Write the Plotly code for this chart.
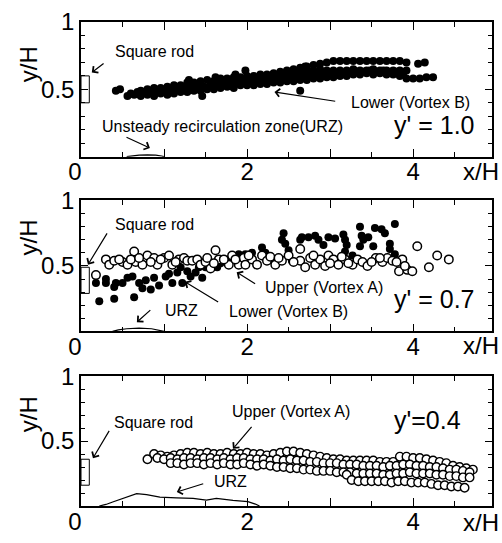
import plotly.graph_objects as go
from plotly.subplots import make_subplots

FONT = "Liberation Sans, Arial, Helvetica, sans-serif"

# ---------------- data (x/H, y/H) ----------------
# Panel y' = 1.0 : lower vortex (B), filled dots
p1_lower_b = [
    (0.56,0.45),(0.64,0.46),(0.72,0.45),(0.80,0.46),(0.88,0.45),(0.96,0.47),(1.04,0.46),(1.12,0.47),
    (1.20,0.48),(1.28,0.48),(1.36,0.49),(1.44,0.49),(1.52,0.50),(1.60,0.50),(1.68,0.51),(1.76,0.52),
    (1.84,0.51),(1.92,0.53),(2.00,0.53),(2.08,0.53),(2.16,0.54),(2.24,0.54),(2.32,0.55),(2.40,0.55),
    (2.48,0.56),(2.56,0.56),(2.64,0.57),(2.72,0.57),(2.80,0.58),(2.88,0.58),(2.96,0.59),(3.04,0.59),
    (3.12,0.60),(3.20,0.60),(3.28,0.61),(3.36,0.61),(3.44,0.62),(3.52,0.61),(3.60,0.62),(3.68,0.61),
    (3.76,0.61),(3.84,0.60),(3.92,0.58),(4.00,0.58),(4.08,0.58),(4.16,0.59),(4.24,0.59),
    (0.60,0.47),(0.68,0.48),(0.76,0.48),(0.84,0.49),(0.92,0.48),(1.00,0.49),(1.08,0.50),(1.16,0.50),
    (1.24,0.51),(1.32,0.51),(1.40,0.52),(1.48,0.52),(1.56,0.53),(1.64,0.54),(1.72,0.54),(1.80,0.55),
    (1.88,0.55),(1.96,0.56),(2.04,0.56),(2.12,0.57),(2.20,0.57),(2.28,0.58),(2.36,0.58),(2.44,0.59),
    (2.52,0.59),(2.60,0.60),(2.68,0.60),(2.76,0.60),(2.84,0.61),(2.92,0.61),(3.00,0.62),(3.08,0.62),
    (3.16,0.62),(3.24,0.63),(3.32,0.63),(3.40,0.63),(3.48,0.64),(3.56,0.63),(3.64,0.64),(3.72,0.63),
    (3.80,0.63),(3.88,0.62),
    (0.72,0.49),(0.80,0.50),(0.88,0.51),(0.96,0.51),(1.04,0.52),(1.12,0.53),(1.20,0.53),(1.28,0.55),
    (1.36,0.55),(1.44,0.56),(1.52,0.57),(1.60,0.56),(1.68,0.58),(1.76,0.58),(1.84,0.59),(1.92,0.59),
    (2.00,0.60),(2.08,0.60),(2.16,0.61),(2.24,0.61),(2.32,0.62),(2.40,0.62),(2.48,0.63),(2.56,0.63),
    (2.64,0.64),(2.72,0.64),(2.80,0.64),(2.88,0.65),(2.96,0.64),(3.04,0.64),(3.12,0.64),(3.20,0.64),
    (3.28,0.65),(3.36,0.64),(3.44,0.64),(3.52,0.65),(3.60,0.64),(3.68,0.64),(3.76,0.64),(3.84,0.64),
    (3.92,0.64),
    (2.40,0.63),(2.48,0.64),(2.56,0.65),(2.64,0.66),(2.72,0.67),(2.80,0.68),(2.88,0.69),(2.96,0.70),
    (3.04,0.71),(3.12,0.71),(3.20,0.71),(3.28,0.71),(3.36,0.71),(3.44,0.71),(3.52,0.71),(3.60,0.71),
    (3.68,0.71),(3.76,0.71),(3.84,0.71),(3.92,0.70),
    (0.42,0.49),(0.47,0.50),(1.46,0.45),(1.98,0.64),(2.64,0.49),(4.06,0.69),(4.14,0.70),
    (1.30,0.57),(1.62,0.59),(1.86,0.61),(2.70,0.67),
]

# Panel y' = 0.7 : lower vortex (B) filled, upper vortex (A) open
p2_lower_b = [
    (0.22,0.23),(0.40,0.25),(0.64,0.26),(0.18,0.37),(0.30,0.37),(0.30,0.40),(0.40,0.34),(0.42,0.37),
    (0.50,0.37),(0.56,0.41),(0.62,0.42),(0.70,0.37),(0.74,0.33),(0.78,0.39),(0.84,0.32),(0.88,0.41),
    (0.94,0.35),(1.02,0.42),(1.06,0.44),(1.10,0.37),(1.16,0.45),(1.20,0.49),(1.22,0.37),(1.28,0.46),
    (1.32,0.42),(1.38,0.45),(1.42,0.49),(1.46,0.41),(1.50,0.49),(1.64,0.49),(1.68,0.52),(1.78,0.55),
    (1.82,0.58),(1.90,0.59),(1.98,0.59),(2.06,0.60),(2.18,0.64),(2.22,0.60),(2.28,0.56),(2.44,0.75),
    (2.42,0.70),(2.46,0.67),(2.50,0.62),(2.54,0.54),(2.64,0.70),(2.66,0.72),(2.74,0.72),(2.82,0.73),
    (2.86,0.70),(2.92,0.66),(2.98,0.72),(3.06,0.71),(3.18,0.70),(3.16,0.74),(3.20,0.66),(3.18,0.61),
    (3.36,0.80),(3.38,0.73),(3.40,0.70),(3.36,0.65),(3.46,0.72),(3.54,0.79),(3.52,0.65),(3.62,0.78),
    (3.66,0.75),(3.78,0.82),(3.72,0.67),(3.72,0.63),(3.78,0.59),(3.27,0.58),
]
p2_upper_a = [
    (0.18,0.43),(0.30,0.55),(0.34,0.51),(0.40,0.54),(0.50,0.53),(0.56,0.51),(0.64,0.61),(0.66,0.53),
    (0.74,0.51),(0.80,0.58),(0.88,0.56),(0.92,0.51),(1.00,0.56),(1.06,0.58),(1.10,0.51),(1.18,0.55),
    (1.24,0.56),(1.28,0.54),(1.34,0.54),(1.40,0.55),(1.44,0.51),(1.50,0.53),(1.56,0.48),(1.62,0.62),
    (1.66,0.55),(1.78,0.51),(1.82,0.58),(1.90,0.51),(1.96,0.56),(1.98,0.51),(2.06,0.55),(2.12,0.51),
    (2.18,0.58),(2.24,0.54),(2.34,0.51),(2.42,0.54),(2.50,0.58),(2.64,0.63),(2.64,0.54),(2.70,0.49),
    (2.76,0.56),(2.82,0.51),(2.88,0.55),(2.94,0.50),(2.98,0.58),(3.04,0.55),(3.10,0.51),(3.18,0.55),
    (3.27,0.51),(3.33,0.55),(3.39,0.53),(3.45,0.50),(3.55,0.56),(3.63,0.53),(3.69,0.56),(3.75,0.54),
    (3.83,0.46),(3.87,0.55),(3.93,0.47),(3.99,0.46),(4.05,0.65),(4.19,0.49),(4.29,0.58),(4.43,0.55),
    (0.46,0.55),(0.60,0.55),(0.70,0.56),(0.84,0.53),(0.96,0.55),(1.14,0.53),(1.52,0.56),(1.60,0.52),
    (1.72,0.55),(1.86,0.55),(2.02,0.58),(2.28,0.57),(2.38,0.56),(2.56,0.53),(2.80,0.58),(3.00,0.52),
    (3.14,0.57),(3.22,0.52),(3.50,0.53),(3.60,0.56),(3.80,0.53),(3.90,0.50),
]

# Panel y' = 0.4 : upper vortex (A), open circles
p3_upper_a = [
    (0.80,0.36),(0.88,0.40),(0.96,0.39),(1.04,0.38),(1.12,0.39),(1.20,0.40),(1.28,0.41),(1.36,0.41),
    (1.44,0.40),(1.52,0.41),(1.60,0.40),(1.68,0.40),(1.76,0.41),(1.84,0.40),(1.92,0.40),(2.00,0.41),
    (2.08,0.40),(2.16,0.40),(2.24,0.39),(2.32,0.40),(2.40,0.41),(2.48,0.42),(2.56,0.42),(2.64,0.41),
    (2.72,0.40),(2.80,0.39),(2.88,0.38),(2.96,0.37),(3.04,0.36),(3.12,0.36),(3.20,0.35),(3.28,0.35),
    (3.36,0.35),(3.44,0.35),(3.52,0.35),(3.60,0.34),(3.68,0.34),(3.76,0.34),(3.84,0.38),(3.92,0.38),
    (4.00,0.37),(4.08,0.37),(4.16,0.36),(4.24,0.35),(4.32,0.34),(4.40,0.33),(4.48,0.31),(4.56,0.30),
    (4.64,0.29),(4.72,0.28),
    (0.92,0.37),(1.00,0.36),(1.08,0.37),(1.16,0.36),(1.24,0.37),(1.32,0.37),(1.40,0.36),(1.48,0.37),
    (1.56,0.37),(1.64,0.36),(1.72,0.37),(1.80,0.36),(1.88,0.37),(1.96,0.37),(2.04,0.36),(2.12,0.36),
    (2.20,0.36),(2.28,0.35),(2.36,0.36),(2.44,0.35),(2.52,0.36),(2.60,0.35),(2.68,0.35),(2.76,0.34),
    (2.84,0.34),(2.92,0.33),(3.00,0.33),(3.08,0.33),(3.16,0.32),(3.24,0.32),(3.32,0.32),(3.40,0.31),
    (3.48,0.31),(3.56,0.31),(3.64,0.30),(3.72,0.31),(3.80,0.31),(3.88,0.32),(3.96,0.32),(4.04,0.31),
    (4.12,0.31),(4.20,0.30),(4.28,0.30),(4.36,0.29),(4.44,0.28),(4.52,0.28),(4.60,0.27),(4.68,0.26),
    (1.08,0.33),(1.16,0.33),(1.24,0.32),(1.32,0.33),(1.40,0.33),(1.48,0.32),(1.56,0.33),(1.64,0.32),
    (1.72,0.33),(1.80,0.32),(1.88,0.32),(1.96,0.33),(2.04,0.32),(2.12,0.31),(2.20,0.32),(2.28,0.31),
    (2.36,0.30),(2.44,0.30),(2.52,0.29),(2.60,0.29),(2.68,0.28),(2.76,0.28),(2.84,0.27),(2.92,0.27),
    (3.00,0.27),(3.08,0.26),(3.16,0.26),(3.24,0.26),(3.32,0.25),(3.40,0.25),(3.48,0.25),(3.56,0.25),
    (3.64,0.24),(3.72,0.24),(3.80,0.25),(3.88,0.25),(3.96,0.26),(4.04,0.25),(4.12,0.25),(4.20,0.25),
    (4.28,0.24),(4.36,0.24),(4.44,0.23),(4.52,0.23),(4.60,0.22),(4.68,0.22),
    (3.20,0.24),(3.26,0.20),(3.34,0.19),(3.42,0.19),(3.50,0.19),(3.58,0.19),(3.66,0.19),(3.74,0.18),
    (3.82,0.19),(3.90,0.19),(3.98,0.18),(4.06,0.18),(4.14,0.18),(4.22,0.17),(4.30,0.16),(4.38,0.16),
    (4.46,0.15),(4.54,0.15),(4.62,0.14),
]

# Unsteady recirculation zone outlines
urz_10 = [(0.55,0.0),(0.62,0.006),(0.70,0.012),(0.80,0.014),(0.90,0.012),(0.97,0.005),(1.0,0.0)]
urz_07 = [(0.38,0.0),(0.45,0.012),(0.55,0.02),(0.70,0.025),(0.85,0.02),(0.95,0.01),(1.0,0.0)]
urz_04 = [(0.22,0.0),(0.30,0.012),(0.39,0.033),(0.53,0.063),(0.67,0.095),(0.79,0.088),(0.95,0.068),
          (1.15,0.063),(1.35,0.058),(1.51,0.046),(1.63,0.058),(1.83,0.043),(2.01,0.033),(2.10,0.015),(2.15,0.0)]

# Square rod outline per panel
rod_x = [0.0, 0.1]
rod_y = [(0.40, 0.60), (0.29, 0.49), (0.16, 0.36)]

panel_labels = ["y' = 1.0", "y' = 0.7", "y'=0.4"]
x_tickvals = [0, 1, 2, 3, 4]
x_ticktext = ["0\u2002", "", "2", "", "4"]
y_tickvals = [0, 0.5, 1]
y_ticktext = ["", "0.5", "1"]

# ---------------- figure ----------------
fig = make_subplots(rows=3, cols=1)

def xs(p):
    return [a for a, b in p]

def ys(p):
    return [b for a, b in p]

filled = dict(color="black", size=8, symbol="circle", line=dict(width=0))
opened2 = dict(color="white", size=8.5, symbol="circle", line=dict(color="black", width=1.5))
opened3 = dict(color="white", size=8.5, symbol="circle", line=dict(color="black", width=1.4))

fig.add_trace(go.Scatter(x=xs(p1_lower_b), y=ys(p1_lower_b), mode="markers", marker=filled), row=1, col=1)
fig.add_trace(go.Scatter(x=xs(p2_lower_b), y=ys(p2_lower_b), mode="markers", marker=filled), row=2, col=1)
fig.add_trace(go.Scatter(x=xs(p2_upper_a), y=ys(p2_upper_a), mode="markers", marker=opened2), row=2, col=1)
fig.add_trace(go.Scatter(x=xs(p3_upper_a), y=ys(p3_upper_a), mode="markers", marker=opened3), row=3, col=1)
for i, urz in enumerate([urz_10, urz_07, urz_04]):
    fig.add_trace(go.Scatter(x=xs(urz), y=ys(urz), mode="lines",
                             line=dict(color="black", width=1.2)), row=i + 1, col=1)
    fig.add_shape(type="rect", x0=rod_x[0], x1=rod_x[1], y0=rod_y[i][0], y1=rod_y[i][1],
                  line=dict(color="black", width=1), row=i + 1, col=1)

domains = [[0.7217, 1.0], [0.3608, 0.6312], [0.0, 0.2684]]
for i in range(3):
    n = "" if i == 0 else str(i + 1)
    fig.layout["xaxis" + n].update(
        range=[0, 4.95], tickvals=x_tickvals, ticktext=x_ticktext, ticks="inside", ticklen=8,
        tickwidth=1, tickcolor="black", showline=True, linewidth=1.5, linecolor="black",
        mirror="ticks", showgrid=False, zeroline=False, ticklabelstandoff=-7,
        tickfont=dict(family=FONT, size=24, color="black"),
        minor=dict(dtick=0.5, tick0=0, ticks="inside", ticklen=5, tickwidth=1, tickcolor="black"),
    )
    fig.layout["yaxis" + n].update(
        domain=domains[i], range=[0, 1], tickvals=y_tickvals, ticktext=y_ticktext, ticks="inside",
        ticklen=7, tickwidth=1, tickcolor="black", showline=True, linewidth=1.5, linecolor="black",
        mirror="ticks", showgrid=False, zeroline=False,
        tickfont=dict(family=FONT, size=24, color="black"),
        minor=dict(dtick=0.1, tick0=0, ticks="inside", ticklen=4, tickwidth=1, tickcolor="black"),
    )

def txt(text, x, y, panel, size=16, xanchor="left"):
    n = "" if panel == 1 else str(panel)
    fig.add_annotation(text=text, x=x, y=y, xref="x" + n, yref="y" + n, showarrow=False,
                       xanchor=xanchor, yanchor="middle", font=dict(family=FONT, size=size, color="black"))

def arrow(tip, tail, panel):
    n = "" if panel == 1 else str(panel)
    fig.add_annotation(text="", x=tip[0], y=tip[1], ax=tail[0], ay=tail[1], xref="x" + n, yref="y" + n,
                       axref="x" + n, ayref="y" + n, showarrow=True, arrowhead=4, arrowsize=1.3,
                       arrowwidth=1.2, arrowcolor="black")

# panel 1
txt("Square rod", 0.385, 0.78, 1)
arrow((0.13, 0.625), (0.29, 0.70), 1)
txt("Lower (Vortex B)", 3.23, 0.405, 1)
arrow((2.33, 0.48), (3.08, 0.41), 1)
txt("Unsteady recirculation zone(URZ)", 0.228, 0.227, 1)
arrow((0.83, 0.064), (0.53, 0.15), 1)
txt(panel_labels[0], 3.75, 0.235, 1, size=25)
# panel 2
txt("Square rod", 0.385, 0.82, 2)
arrow((0.084, 0.51), (0.325, 0.76), 2)
txt("Upper (Vortex A)", 2.19, 0.335, 2)
arrow((1.875, 0.452), (2.115, 0.357), 2)
txt("Lower (Vortex B)", 1.755, 0.15, 2)
arrow((1.25, 0.379), (1.67, 0.217), 2)
txt("URZ", 0.985, 0.158, 2)
arrow((0.673, 0.07), (0.853, 0.173), 2)
txt(panel_labels[1], 3.75, 0.246, 2, size=25)
# panel 3
txt("Upper (Vortex A)", 1.79, 0.725, 3)
arrow((1.83, 0.44), (2.07, 0.62), 3)
txt("Square rod", 0.373, 0.643, 3)
arrow((0.144, 0.368), (0.35, 0.59), 3)
txt("URZ", 1.575, 0.19, 3)
arrow((1.154, 0.108), (1.49, 0.175), 3)
txt(panel_labels[2], 3.75, 0.665, 3, size=25)

# axis titles
ytitle_pos = [0.69, 0.72, 0.71]
xtitle_pos = [-0.11, -0.11, -0.125]
for i in range(3):
    n = "" if i == 0 else str(i + 1)
    fig.add_annotation(text="y/H", x=-0.128, y=ytitle_pos[i], xref="paper", yref="y" + n,
                       textangle=-90, showarrow=False, xanchor="center", yanchor="middle",
                       font=dict(family=FONT, size=24, color="black"))
    fig.add_annotation(text="x/H", x=0.973, y=xtitle_pos[i], xref="paper", yref="y" + n + " domain",
                       showarrow=False, xanchor="center", yanchor="middle",
                       font=dict(family=FONT, size=24, color="black"))

fig.update_layout(
    width=502, height=543, margin=dict(l=81, r=8, t=16, b=24),
    paper_bgcolor="white", plot_bgcolor="white", showlegend=False,
    font=dict(family=FONT, color="black"),
)

fig.write_html("out.html")
